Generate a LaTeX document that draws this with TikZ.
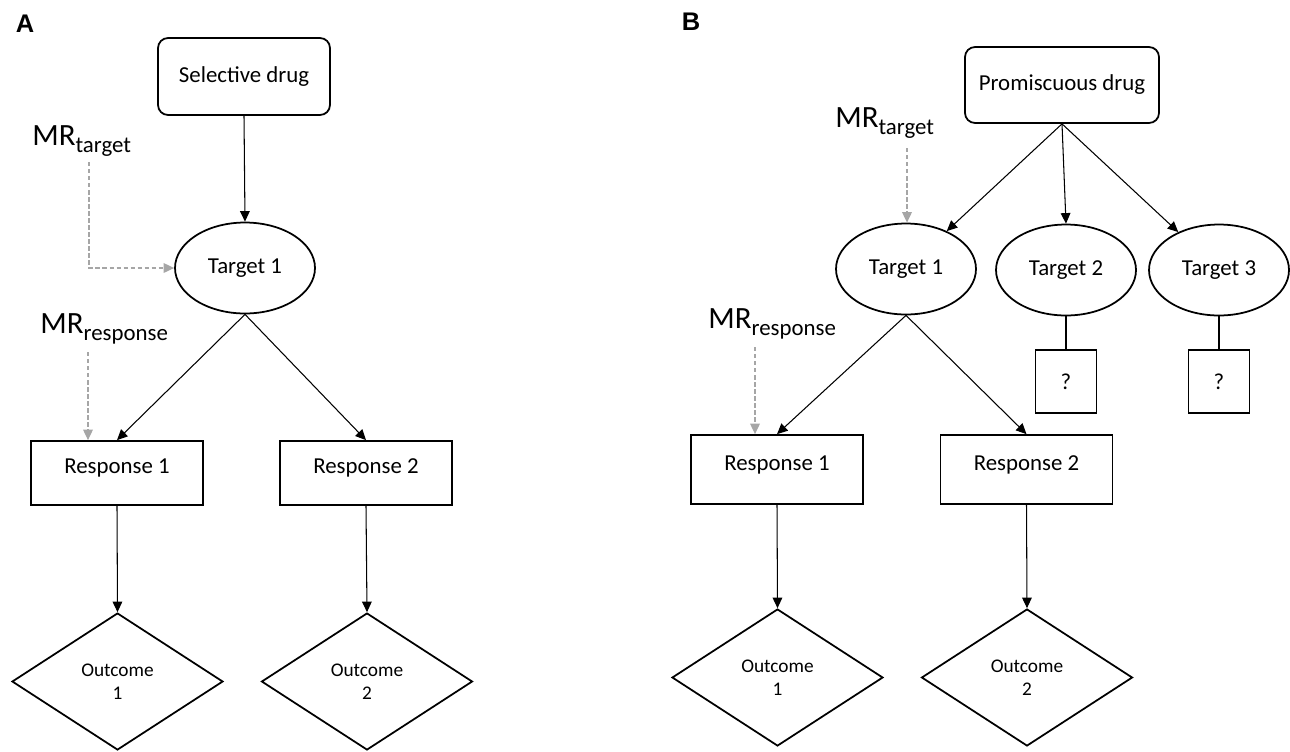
\documentclass[tikz,border=0pt]{standalone}
\usepackage{fontspec}
\setmainfont{Carlito}
\newfontfamily\panelfont{Liberation Sans}
\usetikzlibrary{shapes.geometric,arrows.meta}

\newcommand{\mrlab}[1]{MR\raisebox{-4.5pt}{\fontsize{13}{15}\selectfont #1}}

\tikzset{
	base/.style={draw, line width=1pt, inner sep=2pt, font=\fontsize{13}{15}\selectfont},
	drugbox/.style={base, rounded corners=0.2cm},
	targetnode/.style={base, ellipse, minimum width=2.8cm, minimum height=1.82cm},
	responsebox/.style={base, minimum width=3.44cm, minimum height=1.28cm, text height=9pt, text depth=8pt},
	unknownbox/.style={base, minimum width=1.22cm, minimum height=1.26cm},
	outcomenode/.style={base, diamond, aspect=1.54, minimum width=4.22cm, minimum height=2.74cm, inner sep=0pt, align=center, font=\fontsize{11}{13}\selectfont},
	link/.style={line width=0.6pt, -{Triangle[length=6pt,width=5.5pt]}},
	mrlink/.style={line width=0.8pt, gray!70, dash pattern=on 2.5pt off 1.5pt, -{Triangle[length=6pt,width=5.5pt]}},
	mrlabel/.style={inner sep=0pt, anchor=base west, font=\fontsize{17.6}{20}\selectfont},
	panel/.style={inner sep=0pt, font=\panelfont\bfseries\fontsize{14.5}{16}\selectfont}
}

\begin{document}
\begin{tikzpicture}[x=0.02cm, y=-0.02cm]
	\useasboundingbox (0,0) rectangle (1290,751);

	%panel A: selective drug
	\node[panel] (labA) at (25,24) {A};
	\node[drugbox, minimum width=3.44cm, minimum height=1.54cm] (drugA) at (244,76.5) {Selective drug};
	\node[targetnode] (t1a) at (245,268) {Target 1};
	\node[responsebox] (r1a) at (117,473) {Response 1};
	\node[responsebox] (r2a) at (366,473) {Response 2};
	\node[outcomenode] (o1a) at (117.5,681.5) {Outcome\\1};
	\node[outcomenode] (o2a) at (367,681.5) {Outcome\\2};

	\node[mrlabel] (mrTa) at (32,145) {\mrlab{target}};
	\node[mrlabel] (mrRa) at (40,333) {\mrlab{response}};
	\coordinate (mrTaend) at (89,162);	%start of dashed line under MR target
	\coordinate (mrRaend) at (88,352);	%start of dashed line under MR response

	\draw[link] (drugA.south) -- (t1a.north);
	\draw[link] (t1a.south) -- (r1a.north);
	\draw[link] (t1a.south) -- (r2a.north);
	\draw[link] (r1a.south) -- (o1a.north);
	\draw[link] (r2a.south) -- (o2a.north);
	\draw[mrlink] (mrTaend) |- (t1a.west);
	\draw[mrlink] (mrRaend) -- (mrRaend |- r1a.north);

	%panel B: promiscuous drug
	\node[panel] (labB) at (691,22) {B};
	\node[drugbox, minimum width=3.88cm, minimum height=1.52cm] (drugB) at (1062,85) {Promiscuous drug};
	\node[targetnode] (t1b) at (906,269) {Target 1};
	\node[targetnode] (t2b) at (1066,270) {Target 2};
	\node[targetnode] (t3b) at (1219,270) {Target 3};
	\node[unknownbox] (q2b) at (1066,381.5) {?};
	\node[unknownbox] (q3b) at (1219,381.5) {?};
	\node[responsebox, minimum height=1.38cm] (r1b) at (777,469.5) {Response 1};
	\node[responsebox, minimum height=1.38cm] (r2b) at (1026.5,469.5) {Response 2};
	\node[outcomenode] (o1b) at (777.5,677.5) {Outcome\\1};
	\node[outcomenode] (o2b) at (1027,677.5) {Outcome\\2};

	\node[mrlabel] (mrTb) at (835,127) {\mrlab{target}};
	\node[mrlabel] (mrRb) at (708,328) {\mrlab{response}};
	\coordinate (mrTbend) at (907,148);
	\coordinate (mrRbend) at (755,347);

	\draw[link] (drugB.south) -- (t1b);
	\draw[link] (drugB.south) -- (t2b.north);
	\draw[link] (drugB.south) -- (t3b);
	\draw[line width=0.6pt] (t2b.south) -- (q2b.north);
	\draw[line width=0.6pt] (t3b.south) -- (q3b.north);
	\draw[link] (t1b.south) -- (r1b.north);
	\draw[link] (t1b.south) -- (r2b.north);
	\draw[link] (r1b.south) -- (o1b.north);
	\draw[link] (r2b.south) -- (o2b.north);
	\draw[mrlink] (mrTbend) -- (mrTbend |- t1b.north);
	\draw[mrlink] (mrRbend) -- (mrRbend |- r1b.north);
\end{tikzpicture}
\end{document}
